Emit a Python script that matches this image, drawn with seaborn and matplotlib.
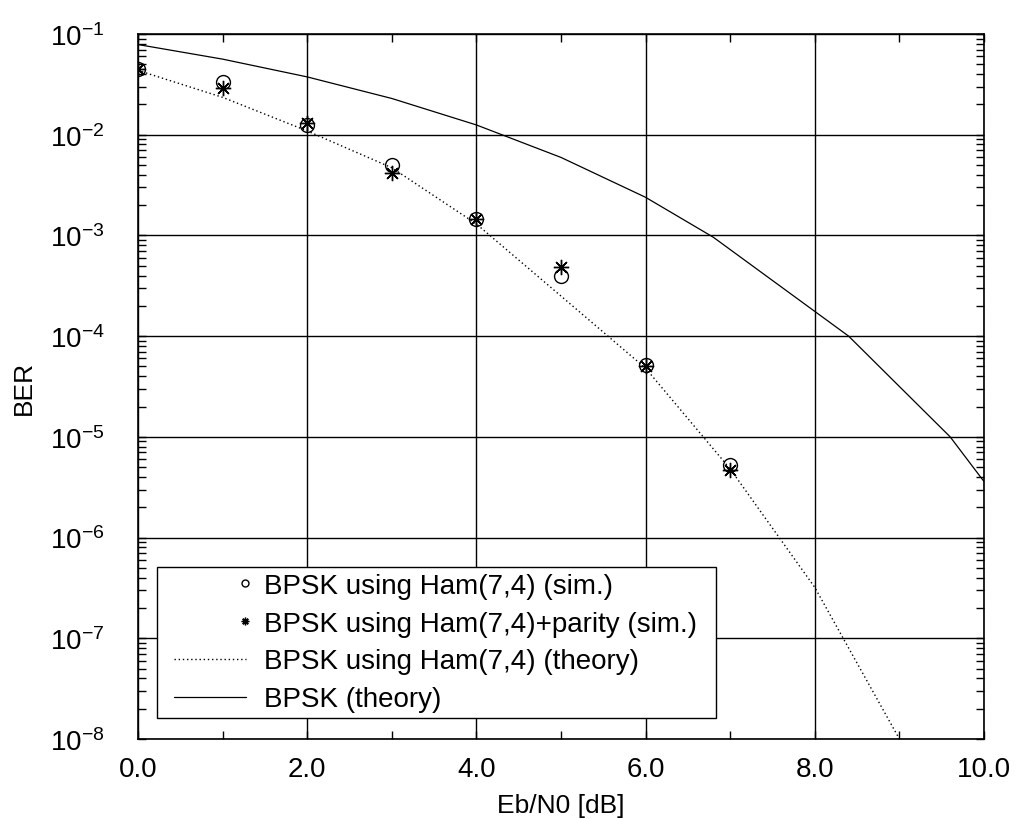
import numpy as np
import pandas as pd
import seaborn as sns
import matplotlib
matplotlib.use("Agg")
import matplotlib.pyplot as plt
from matplotlib.ticker import FixedLocator, FuncFormatter, LogLocator, NullFormatter
from matplotlib.legend_handler import HandlerLine2DCompound

# Simulated bit error rates (Ham(7,4) and Ham(7,4)+parity)
snr_sim = [0, 1, 2, 3, 4, 5, 6, 7]
ber_ham_sim = [0.0449, 0.0334, 0.0125, 0.0050, 0.00146, 4.0e-4, 5.2e-5, 5.3e-6]
ber_parity_sim = [0.0449, 0.0289, 0.0131, 0.00414, 0.00146, 4.85e-4, 5.0e-5, 4.7e-6]

# Theoretical curves
snr_ham_theory = [0, 1, 2, 3, 4, 5, 6, 7, 8, 9]
ber_ham_theory = [0.0435, 0.0235, 0.0109, 0.0047, 0.0013, 2.5e-4, 4.8e-5, 4.8e-6, 3.2e-7, 1.0e-8]
snr_bpsk_theory = [0, 1, 2, 3, 4, 5, 6, 6.8, 8.4, 9.6, 10]
ber_bpsk_theory = [0.0786, 0.0563, 0.0375, 0.0229, 0.0125, 0.00595, 0.00239, 9.6e-4, 1.0e-4, 1.0e-5, 3.6e-6]

labels = [
    "BPSK using Ham(7,4) (sim.)",
    "BPSK using Ham(7,4)+parity (sim.)",
    "BPSK using Ham(7,4) (theory)",
    "BPSK (theory)",
]
x_ticks = [0, 2, 4, 6, 8, 10]

sns.set_theme(style="ticks")
plt.rcParams["font.family"] = ["Liberation Sans", "DejaVu Sans"]
plt.rcParams["mathtext.fontset"] = "custom"
plt.rcParams["mathtext.rm"] = "Liberation Sans"
plt.rcParams["mathtext.it"] = "Liberation Sans:italic"
plt.rcParams["mathtext.bf"] = "Liberation Sans:bold"
plt.rcParams["text.color"] = "black"
plt.rcParams["axes.labelcolor"] = "black"

fig = plt.figure(figsize=(10.16, 8.2), dpi=100)
ax = fig.add_axes([138 / 1016, 80 / 820, 846 / 1016, 705 / 820])

asterisk = (8, 2, 0)

sns.lineplot(x=snr_sim, y=ber_ham_sim, ax=ax, estimator=None, sort=False,
             color="black", linestyle="", marker="o", markersize=10,
             markerfacecolor="none", markeredgecolor="black", markeredgewidth=1.0,
             label=labels[0])
sns.lineplot(x=snr_sim, y=ber_parity_sim, ax=ax, estimator=None, sort=False,
             color="black", linestyle="", marker=asterisk, markersize=11,
             markeredgecolor="black", markeredgewidth=1.0, label=labels[1])
sns.lineplot(x=snr_ham_theory, y=ber_ham_theory, ax=ax, estimator=None, sort=False,
             color="black", linestyle=(0, (1, 2)), linewidth=1.0, label=labels[2])
sns.lineplot(x=snr_bpsk_theory, y=ber_bpsk_theory, ax=ax, estimator=None, sort=False,
             color="black", linestyle="-", linewidth=0.9, label=labels[3])

ax.set_yscale("log")
ax.set_xlim(0, 10)
ax.set_ylim(1e-8, 1e-1)

ax.xaxis.set_major_locator(FixedLocator(x_ticks))
ax.xaxis.set_minor_locator(FixedLocator(list(range(0, 11))))
ax.xaxis.set_major_formatter(FuncFormatter(lambda v, p: f"{v:.1f}"))
ax.yaxis.set_major_locator(LogLocator(base=10, numticks=20))
ax.yaxis.set_minor_locator(LogLocator(base=10, subs=np.arange(2, 10), numticks=20))
ax.yaxis.set_minor_formatter(NullFormatter())
ax.yaxis.set_major_formatter(FuncFormatter(lambda v, p: r"$10^{%d}$" % round(np.log10(v))))

ax.tick_params(which="both", direction="in", top=True, right=True, colors="black",
               width=1.0, labelsize=20)
ax.tick_params(which="major", length=6)
ax.tick_params(which="minor", length=6)
ax.tick_params(axis="x", which="major", pad=12)
ax.tick_params(axis="y", which="major", pad=24)

ax.grid(True, which="major", color="black", linewidth=1.0)
for s in ax.spines.values():
    s.set_color("black")
    s.set_linewidth(1.2)

ax.set_xlabel("Eb/N0 [dB]", fontsize=19, labelpad=8, color="black")
ax.set_ylabel("BER", fontsize=19, labelpad=10, color="black")


class OffsetHandler(HandlerLine2DCompound):
    """Line sample starting a little inside the handle box, marker at its right end."""

    def __init__(self, lead=8, **kw):
        super().__init__(**kw)
        self.lead = lead

    def get_xdata(self, legend, xdescent, ydescent, width, height, fontsize):
        x0 = -xdescent + self.lead
        x1 = -xdescent + width
        return np.array([x0, x1]), np.array([x1 - 1])


handles, lbls = ax.get_legend_handles_labels()
leg = ax.legend(handles, lbls, loc="lower left",
                bbox_to_anchor=(0.0225, 0.0298, 0.661, 0.2), mode="expand",
                borderaxespad=0, fontsize=20, frameon=True, fancybox=False,
                edgecolor="black", framealpha=1, handlelength=3.0, handletextpad=0.65,
                labelspacing=0.43, borderpad=0.2, markerscale=0.5,
                labelcolor="black",
                handler_map={h: OffsetHandler() for h in handles})
leg.get_frame().set_linewidth(1.0)

fig.savefig("out.png", dpi=100)
